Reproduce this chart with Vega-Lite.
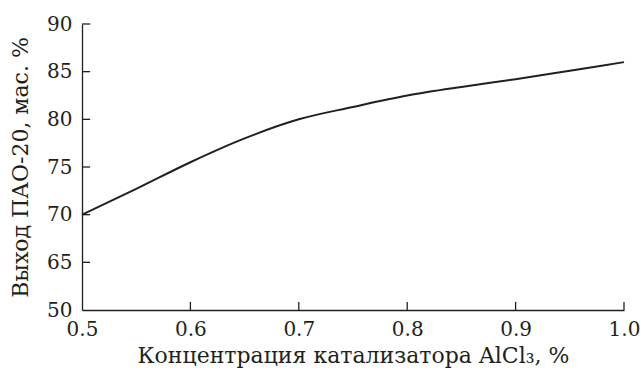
{
  "$schema": "https://vega.github.io/schema/vega-lite/v6.json",
  "width": 542,
  "height": 286,
  "autosize": "none",
  "padding": {"left": 82, "top": 24, "right": 17, "bottom": 64},
  "background": "white",
  "config": {
    "view": {"stroke": null},
    "font": "DejaVu Serif",
    "axis": {
      "labelFont": "DejaVu Serif",
      "titleFont": "DejaVu Serif",
      "labelFontSize": 20,
      "titleFontSize": 22,
      "labelColor": "#231f20",
      "titleColor": "#231f20",
      "titleFontWeight": "normal",
      "domainColor": "#231f20",
      "domainWidth": 1.3,
      "ticks": false,
      "grid": false
    }
  },
  "datasets": {
    "curve": [
      {"c": 0.5, "y": 70.0},
      {"c": 0.55, "y": 72.7},
      {"c": 0.6, "y": 75.5},
      {"c": 0.65, "y": 78.0},
      {"c": 0.7, "y": 80.0},
      {"c": 0.75, "y": 81.3},
      {"c": 0.8, "y": 82.5},
      {"c": 0.85, "y": 83.4},
      {"c": 0.9, "y": 84.2},
      {"c": 0.95, "y": 85.1},
      {"c": 1.0, "y": 86.0}
    ],
    "yticks": [{"yv": 65}, {"yv": 70}, {"yv": 75}, {"yv": 80}, {"yv": 85}, {"yv": 90}],
    "xticks": [{"xv": 0.6}, {"xv": 0.7}, {"xv": 0.8}, {"xv": 0.9}, {"xv": 1.0}]
  },
  "layer": [
    {
      "data": {"name": "curve"},
      "mark": {"type": "line", "color": "#231f20", "strokeWidth": 2, "interpolate": "monotone"},
      "encoding": {
        "x": {
          "field": "c",
          "type": "quantitative",
          "scale": {"domain": [0.5, 1.0], "nice": false, "zero": false},
          "axis": {
            "title": "Концентрация катализатора AlCl₃, %",
            "values": [0.5, 0.6, 0.7, 0.8, 0.9, 1.0],
            "format": ".1f",
            "labelPadding": 9,
            "labelFlush": false,
            "labelOverlap": false,
            "titlePadding": 6
          }
        },
        "y": {
          "field": "y",
          "type": "quantitative",
          "scale": {"domain": [60, 90], "nice": false, "zero": false},
          "axis": {
            "title": "Выход ПАО-20, мас. %",
            "values": [60, 65, 70, 75, 80, 85, 90],
            "labelExpr": "datum.value == 60 ? '50' : datum.label",
            "labelPadding": 10,
            "labelFlush": false,
            "labelOverlap": false,
            "titleX": -55,
            "titleBaseline": "alphabetic",
            "titleAngle": -90
          }
        }
      }
    },
    {
      "data": {"name": "yticks"},
      "mark": {"type": "rule", "color": "#231f20", "strokeWidth": 1.3},
      "encoding": {
        "y": {"field": "yv", "type": "quantitative"},
        "x": {"datum": 0.5},
        "x2": {"datum": 0.5075}
      }
    },
    {
      "data": {"name": "xticks"},
      "mark": {"type": "rule", "color": "#231f20", "strokeWidth": 1.3},
      "encoding": {
        "x": {"field": "xv", "type": "quantitative"},
        "y": {"datum": 60},
        "y2": {"datum": 60.85}
      }
    }
  ]
}
